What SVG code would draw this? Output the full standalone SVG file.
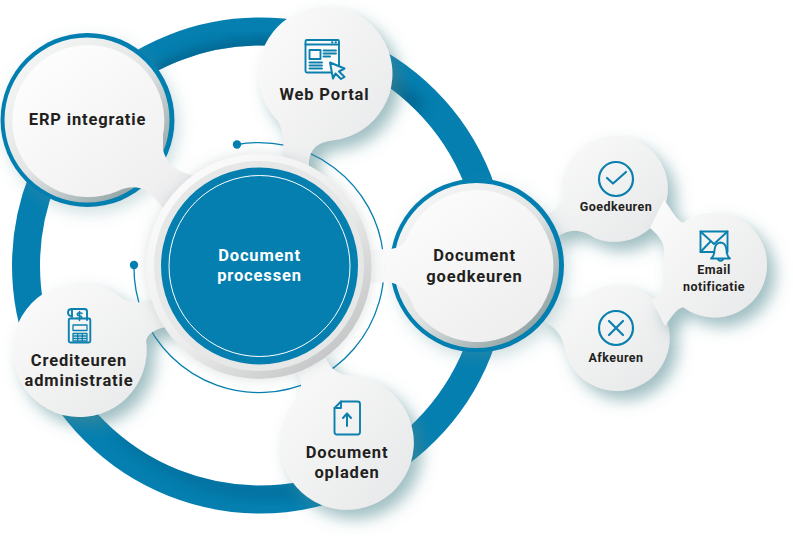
<svg xmlns="http://www.w3.org/2000/svg" width="793" height="542" viewBox="0 0 793 542">
<style>
text{font-family:Roboto,"Liberation Sans",sans-serif;font-weight:700;fill:#231f20;text-anchor:middle}
.big{font-size:16.5px;letter-spacing:.85px}
.small{font-size:12.5px;letter-spacing:.45px}
.ic{fill:none;stroke:#0b80ae;stroke-width:1.9;stroke-linejoin:round;stroke-linecap:round}
.ic2{fill:none;stroke:#0b80ae;stroke-width:2.2;stroke-linejoin:round;stroke-linecap:round}
.blob{filter:url(#sh)}
.teal{fill:#047fb0}
</style>
<defs>
<filter id="sh" x="-30%" y="-30%" width="170%" height="170%"><feDropShadow dx="8" dy="9" stdDeviation="8" flood-color="#4f8890" flood-opacity=".55"/></filter>
<filter id="sh2" x="-30%" y="-30%" width="170%" height="170%"><feDropShadow dx="4" dy="6" stdDeviation="8" flood-color="#5f949b" flood-opacity=".3"/></filter>
<filter id="sh3" x="-20%" y="-20%" width="140%" height="140%"><feDropShadow dx="0" dy="0" stdDeviation="7" flood-color="#8a9a9c" flood-opacity=".3"/></filter>
<filter id="bl" x="-20%" y="-20%" width="140%" height="140%"><feGaussianBlur stdDeviation="7"/></filter>
<linearGradient id="gBlob" x1="0" y1="0" x2="1" y2="1"><stop offset="0" stop-color="#fcfcfc"/><stop offset="1" stop-color="#e6e7e8"/></linearGradient>
<linearGradient id="gW" x1=".15" y1=".1" x2=".85" y2=".9"><stop offset="0" stop-color="#fdfdfd"/><stop offset="1" stop-color="#eeeeef"/></linearGradient>
<linearGradient id="gBevel" x1=".15" y1=".1" x2=".85" y2=".9"><stop offset="0" stop-color="#f4f5f5"/><stop offset=".5" stop-color="#e3e5e5"/><stop offset="1" stop-color="#8fa2a3"/></linearGradient>
<linearGradient id="gC" x1=".15" y1=".1" x2=".85" y2=".9"><stop offset="0" stop-color="#fbfbfb"/><stop offset=".55" stop-color="#ececec"/><stop offset="1" stop-color="#c4c5c6"/></linearGradient>
<clipPath id="ringClip"><path clip-rule="evenodd" d="M12 265.500a248 248 0 1 0 496 0a248 248 0 1 0-496 0ZM40 265.500a220 220 0 1 1 440 0a220 220 0 1 1-440 0Z"/></clipPath>
</defs>
<rect width="793" height="542" fill="#fff"/>

<g id="connectors">
<circle cx="260" cy="265.500" r="234" fill="none" stroke="#047fb0" stroke-width="28"/>
<g clip-path="url(#ringClip)">
<path d="M120 100A220 220 0 0 1 420 110" fill="none" stroke="#03557a" stroke-width="12" opacity=".75" filter="url(#bl)"/>
<path d="M120 430A220 220 0 0 0 300 490" fill="none" stroke="#03557a" stroke-width="10" opacity=".45" filter="url(#bl)"/>
</g>
<path d="M237 144.500A125 125 0 1 1 134 265" fill="none" stroke="#047fb0" stroke-width="1.3"/>
<circle cx="237" cy="144.500" r="4.200" class="teal"/>
<circle cx="134" cy="265" r="4.200" class="teal"/>
</g>

<g id="node-web-portal">
<path class="blob" fill="url(#gBlob)" d="M278 121A67 67 0 1 1 335 140C312 142 306 155 310 175L280 175C286 142 283 130 278 121Z"/>
<g class="ic">
<rect x="305.500" y="40" width="33.500" height="32.500" rx="1.500" fill="#fbfbfb"/>
<path d="M305.500 44.500H339M332 42.300h.5M335.500 42.300h.5"/>
<rect x="309.500" y="50" width="11" height="9"/>
<path d="M323.500 50.500H336M323.500 53.500H336M323.500 56.500H330M309.500 62.500H322M309.500 65.500H322M309.500 68.500H322"/>
<path d="M330 62.500L344.500 68.500L339 71.500L344.500 77L341 79L335.500 73.500L333 78.500Z" fill="#f4f5f5" stroke-width="2"/>
</g>
<text class="big" x="324.500" y="100">Web Portal</text>
</g>

<g id="node-crediteuren">
<path class="blob" fill="url(#gBlob)" d="M146 341A67 67 0 1 1 123 299C135 305 145 303 165 295L175 325C155 328 148 333 146 341Z"/>
<g class="ic">
<path d="M72 317V309H84.500Q87 309 87 311.500V320"/>
<path d="M72 309Q68 309 68 312.500Q68 316 72 316"/>
<rect x="68.800" y="318.500" width="21.500" height="24" rx="1.500"/>
<rect x="73" y="325" width="14" height="5.500" stroke-width="1.300"/>
<path d="M73 333.500H87V341H73ZM73 336H87M73 338.500H87M77.700 333.500V341M82.300 333.500V341" stroke-width="1.300"/>
<path d="M82 313.500Q79.500 312.200 77.500 313.500Q76.500 315.200 79.500 315.800Q82.500 316.500 81.500 318.200Q79.500 319.500 77 318.200M79.500 311.500V320.500" stroke-width="1.500"/>
</g>
<text class="big" x="79" y="366">Crediteuren</text>
<text class="big" x="79" y="386">administratie</text>
</g>

<g id="node-document-opladen">
<path class="blob" fill="url(#gBlob)" d="M297 398A67 67 0 1 0 352 376C335 375 328 366 322 350L292 365C303 378 303 388 297 398Z"/>
<g class="ic">
<path d="M341 401.500H357.500Q360 401.500 360 404V432Q360 434.500 357.500 434.500H337Q334.500 434.500 334.500 432V408Z"/>
<path d="M341 401.500V408H334.500"/>
<path d="M347 426V413.500M343 418L347 413.500L351 418" stroke-width="2"/>
</g>
<text class="big" x="347" y="458">Document</text>
<text class="big" x="347" y="478">opladen</text>
</g>

<g id="node-goedkeuren">
<path class="blob" fill="url(#gBlob)" d="M563 200A53 53 0 1 1 595 238C578 226 565 231 555 238L540 218C552 213 558 208 563 200Z"/>
<circle cx="616" cy="179" r="17" class="ic2"/>
<path class="ic2" d="M607 178L613 183.500L626 172"/>
<text class="small" x="616" y="211">Goedkeuren</text>
</g>

<g id="node-afkeuren">
<path class="blob" fill="url(#gBlob)" d="M587 294A53 53 0 1 1 565 350C563 336 556 326 540 320L550 296C562 305 575 303 587 294Z"/>
<circle cx="616" cy="328" r="17" class="ic2"/>
<path class="ic2" d="M609 321L623 335M623 321L609 335"/>
<text class="small" x="616" y="362">Afkeuren</text>
</g>

<g id="node-email">
<path class="blob" fill="url(#gBlob)" d="M683 223A52.500 52.500 0 1 1 683 307C675 310 672 316 665 326L652 300C662 293 665 288 664 276L664 254C665 245 662 238 650 228L664 200C670 207 675 219 683 223Z"/>
<g class="ic">
<rect x="700.500" y="231.500" width="27" height="20.500"/>
<path d="M700.500 231.500L714 244L727.500 231.500M700.500 252L710 242"/>
<path d="M711 258.500Q714.500 256 714.500 250Q715 243 720.500 242.500Q726 243 726.500 250Q726.500 256 730 258.500Z" fill="#f4f5f5"/>
<path d="M718 259.500Q720.500 262 723 259.500"/>
</g>
<text class="small" x="714" y="274">Email</text>
<text class="small" x="714" y="291">notificatie</text>
</g>

<g id="node-erp">
<circle cx="87.500" cy="120" r="87" class="teal" filter="url(#sh2)"/>
<circle cx="87" cy="120" r="82.500" fill="url(#gBevel)"/>
<path fill="url(#gW)" d="M163 135A76 76 0 1 0 118 191C128 186 140 186 148 192Q155 198 168 214L195 176C180 172 168 168 163 150Z"/>
<text class="big" x="87.500" y="125">ERP integratie</text>
</g>

<g id="node-document-goedkeuren">
<circle cx="477" cy="265.500" r="87" class="teal" filter="url(#sh2)"/>
<circle cx="476.500" cy="265.500" r="82.500" fill="url(#gBevel)"/>
<path fill="url(#gW)" d="M406 240A76 76 0 1 1 414 308C410 295 403 284 388 282L360 284L360 250L388 249C395 249 402 247 406 240Z"/>
<text class="big" x="474.500" y="261">Document</text>
<text class="big" x="474.500" y="282">goedkeuren</text>
</g>

<g id="node-document-processen">
<circle cx="259" cy="266.500" r="112.500" fill="url(#gC)" filter="url(#sh3)"/>
<circle cx="259" cy="266" r="105" fill="#e6e7e7"/>
<circle cx="259.500" cy="266" r="98.500" class="teal"/>
<circle cx="259.500" cy="266" r="90.500" fill="none" stroke="#fff" stroke-width="1"/>
<text class="big" x="259.500" y="261" style="fill:#fff">Document</text>
<text class="big" x="259.500" y="281" style="fill:#fff">processen</text>
</g>
</svg>
